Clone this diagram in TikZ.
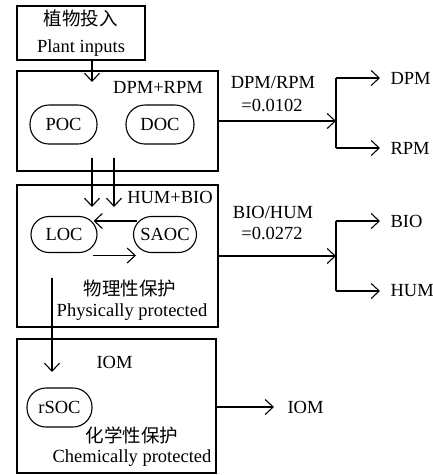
\documentclass[tikz,border=0pt]{standalone}
\usepackage{fontspec}
\setmainfont{Liberation Serif}
\newfontfamily\cjk{Noto Sans CJK SC}
\usetikzlibrary{positioning,arrows.meta}

\begin{document}
\begin{tikzpicture}[
  x=1pt, y=-1pt, line width=1.1pt,
  font=\fontsize{18.5}{27}\selectfont, >={Straight Barb[length=8pt,width=15pt]},
  box/.style={draw, inner sep=0pt},
  pool/.style={draw, rounded corners=18pt, minimum width=66pt, minimum height=36pt, inner sep=1pt},
  lbl/.style={inner sep=0pt},
]
\useasboundingbox (0,0) rectangle (433,475);

% input
\node[box, minimum width=128pt, minimum height=54pt, align=center] (inp) at (81,33) {{\cjk 植物投入}\\Plant inputs};

% pools
\node[box, minimum width=201pt, minimum height=100pt] (dpmbox) at (117.5,121) {};
\node[box, minimum width=201pt, minimum height=142pt] (humbox) at (117.5,256) {};
\node[box, minimum width=199pt, minimum height=134pt] (iombox) at (116.5,406) {};
\node[lbl] (dpmlbl) at (158,87) {DPM+RPM};
\node[lbl] (humlbl) at (170,197) {HUM+BIO};
\node[lbl] (iomlbl) at (114.5,362) {IOM};
\node[lbl] (physcn) at (130,288) {\cjk 物理性保护};
\node[lbl] (physen) at (132,312) {Physically protected};
\node[lbl] (chemcn) at (132,435) {\cjk 化学性保护};
\node[lbl] (chemen) at (132,458) {Chemically protected};

\node[pool, minimum width=67pt, minimum height=39pt, rounded corners=19pt] (poc) at (63.5,124.5) {POC};
\node[pool, minimum width=68pt, minimum height=39pt, rounded corners=19pt] (doc) at (160,124.5) {DOC};
\node[pool] (loc) at (64,234.5) {LOC};
\node[pool, minimum width=63pt] (saoc) at (165,234.5) {SAOC};
\node[pool, minimum width=65pt, minimum height=39pt, rounded corners=19pt] (rsoc) at (59.5,407.5) {rSOC};

% flows between pools
\coordinate (inpend) at (92,82);
\draw[->] (inp.south -| inpend) -- (inpend);
\coordinate (dna) at (92,158);
\coordinate (dnb) at (92,207);
\coordinate (dnc) at (114,158);
\coordinate (dnd) at (114,207);
\draw[->] (dna) -- (dnb);
\draw[->] (dnc) -- (dnd);
\draw[->] ([xshift=4pt,yshift=13.5pt]saoc.west) -- ([xshift=-4pt,yshift=13.5pt]loc.east);
\draw[->] ([xshift=-5pt,yshift=-21pt]loc.east) -- ([xshift=3pt,yshift=-21pt]saoc.west);
\coordinate (locdn) at (52,278);
\coordinate (rsocin) at (52,372);
\draw[->] (locdn) -- (rsocin);

% outputs
\coordinate (split1) at (336,121);
\node[lbl, anchor=west] (dpm) at (390,78) {DPM};
\node[lbl, anchor=west] (rpm) at (390,148) {RPM};
\node[lbl] (ratio1) at (273,82) {DPM/RPM};
\node[lbl] (val1) at (272,105) {=0.0102};
\draw[->] (dpmbox.east) -- (split1);
\draw (split1 |- dpm.west) -- (split1 |- rpm.west);
\draw[->, shorten >=10pt] (split1 |- dpm.west) -- (dpm.west);
\draw[->, shorten >=10pt] (split1 |- rpm.west) -- (rpm.west);

\coordinate (split2) at (336,256);
\node[lbl, anchor=west] (bio) at (390,221) {BIO};
\node[lbl, anchor=west] (hum) at (390,291) {HUM};
\node[lbl] (ratio2) at (273,212) {BIO/HUM};
\node[lbl] (val2) at (272,233) {=0.0272};
\draw[->] (humbox.east) -- (split2);
\draw (split2 |- bio.west) -- (split2 |- hum.west);
\draw[->, shorten >=10pt] (split2 |- bio.west) -- (bio.west);
\draw[->, shorten >=10pt] (split2 |- hum.west) -- (hum.west);

\node[lbl, anchor=west] (iomout) at (287,407) {IOM};
\draw[->, shorten >=13pt] (iombox.east |- iomout.west) -- (iomout.west);
\end{tikzpicture}
\end{document}
